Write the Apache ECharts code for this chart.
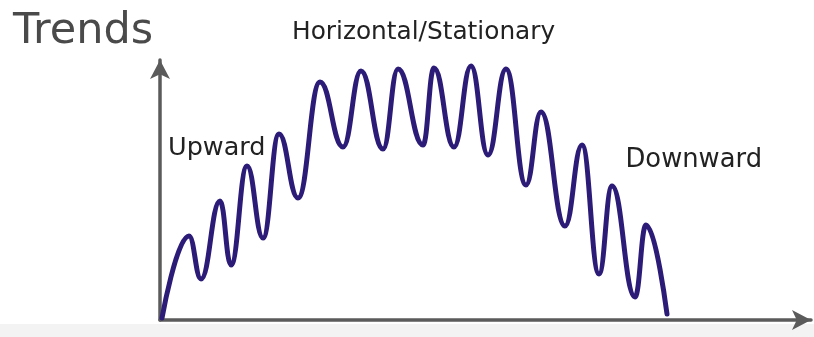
<!DOCTYPE html>
<html><head><meta charset="utf-8">
<script src="https://cdn.jsdelivr.net/npm/echarts@6/dist/echarts.min.js"></script>
<style>html,body{margin:0;padding:0;background:#fff}#c{width:814px;height:337px}</style>
</head><body><div id="c"></div>
<script>
// x: horizontal distance from origin, y: height above the x axis (chart units)
const pointX = [2, 29, 41, 60, 71, 87, 103, 119, 138, 160, 183, 201, 223, 238, 263, 274, 294, 311, 328, 346, 366, 381, 405, 422, 439, 452, 475, 486, 507];
const pointY = [2, 84, 41, 119, 55, 154, 82, 186, 122, 238, 173, 249, 171, 251, 175, 252, 173, 254, 165, 251, 135, 208, 94, 175, 46, 134, 23, 95, 6];
const titleText = 'Trends';
const labels = ['Upward', 'Horizontal/Stationary', 'Downward'];

const data = pointX.map((x, i) => [x, pointY[i]]);
const chart = echarts.init(document.getElementById('c'), null, {renderer: 'canvas'});
const axisStyle = {show: true, lineStyle: {color: '#5b5b5b', width: 3.5}, symbol: ['none', 'arrow'], symbolSize: [15, 19], symbolOffset: [0, 0]};
const F = '"DejaVu Sans"';
chart.setOption({
  animation: false,
  backgroundColor: '#ffffff',
  grid: {left: 160, right: 3, top: 60, bottom: 17, containLabel: false},
  xAxis: {type: 'value', min: 0, max: 651, axisLine: axisStyle, axisTick: {show: false}, axisLabel: {show: false}, splitLine: {show: false}},
  yAxis: {type: 'value', min: 0, max: 260, axisLine: axisStyle, axisTick: {show: false}, axisLabel: {show: false}, splitLine: {show: false}},
  graphic: [
    {type: 'rect', z: -1, shape: {x: 0, y: 324, width: 814, height: 13}, style: {fill: '#f3f3f3'}},
    {type: 'text', style: {x: 13, y: 32, verticalAlign: 'middle', text: titleText, font: '400 43px ' + F, fill: '#4a4a4a'}},
    {type: 'text', style: {x: 168, y: 148, verticalAlign: 'middle', text: labels[0], font: '400 25.5px ' + F, fill: '#222222'}},
    {type: 'text', style: {x: 292, y: 33, verticalAlign: 'middle', text: labels[1], font: '400 24.8px ' + F, fill: '#222222'}},
    {type: 'text', style: {x: 625.5, y: 160.5, verticalAlign: 'middle', text: labels[2], font: '400 25.8px ' + F, fill: '#222222'}}
  ],
  series: [{
    type: 'line', data: data, smooth: 0.45, smoothMonotone: 'x', symbol: 'none',
    lineStyle: {color: '#2c1c78', width: 5, cap: 'round', join: 'round'}
  }]
});
</script></body></html>
